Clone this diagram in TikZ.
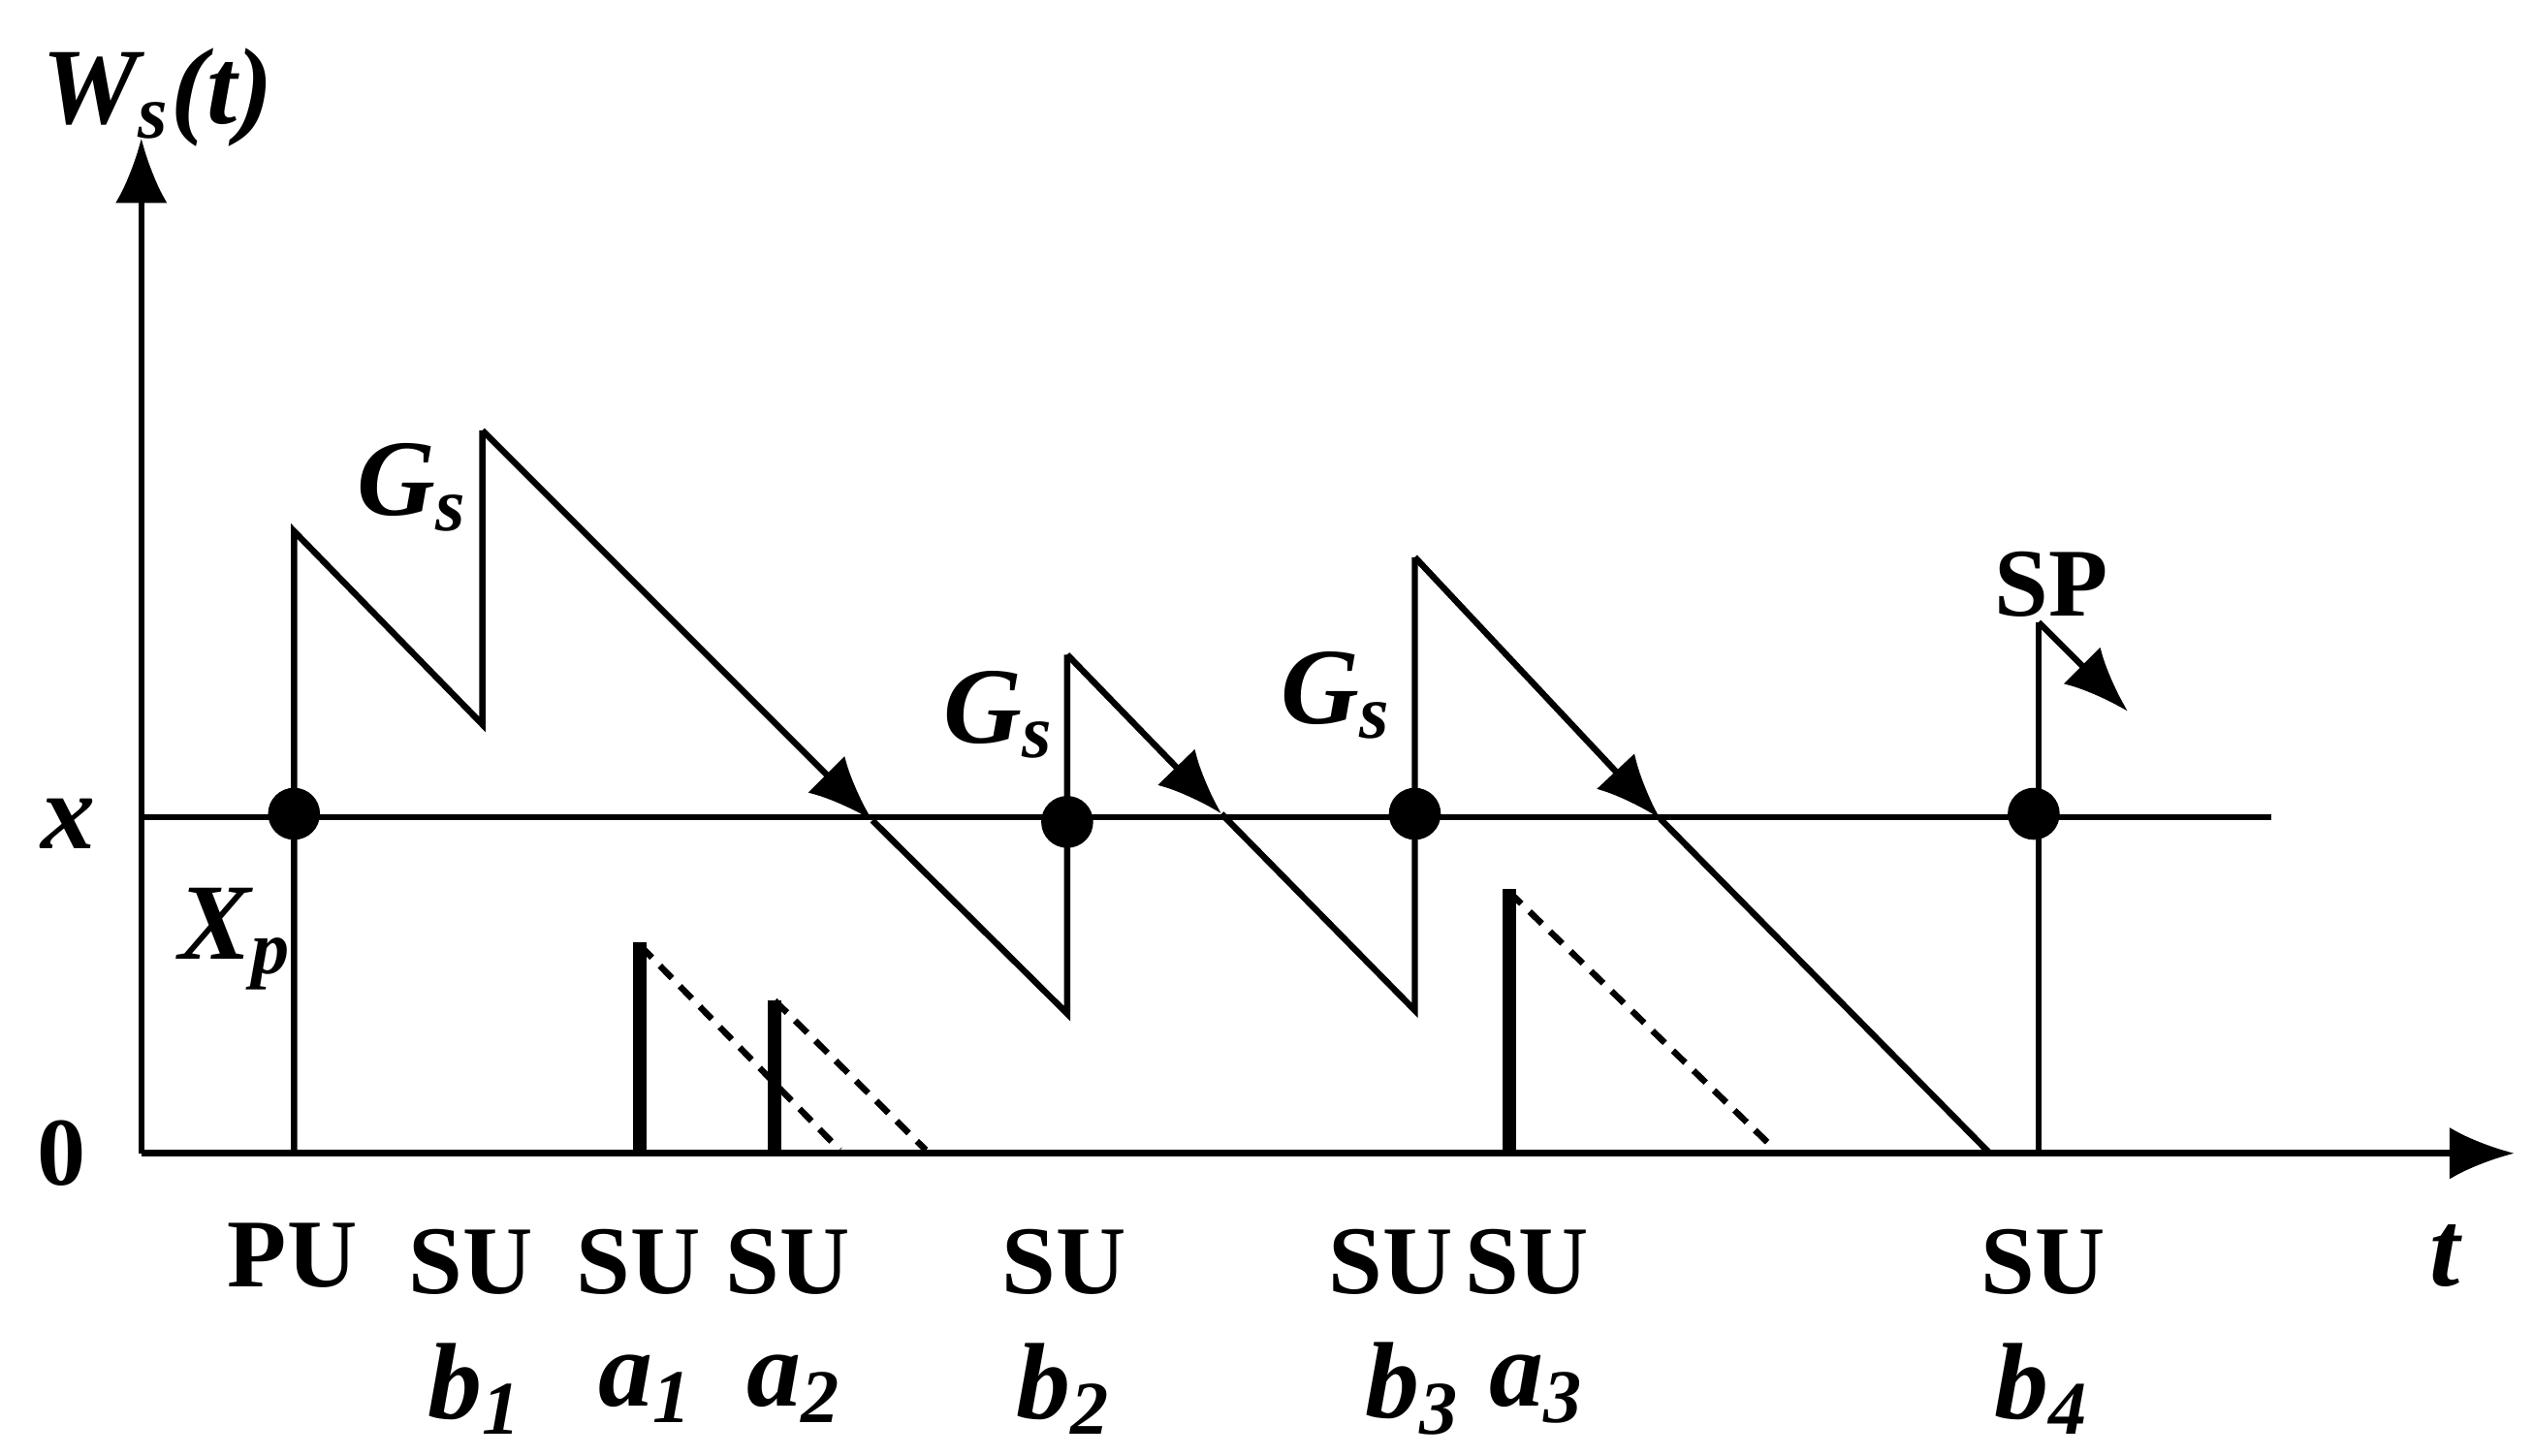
\documentclass[tikz,border=0pt]{standalone}
\usepackage{fontspec}
\setmainfont{Liberation Serif}
\usetikzlibrary{arrows.meta}
\begin{document}
\begin{tikzpicture}[x=0.1mm,y=-0.1mm,
  ln/.style={line width=1.1pt},
  arr/.style={ln,-{Latex[length=4mm,width=3.2mm]}},
  lab/.style={font=\fontsize{17}{20}\selectfont\bfseries},
  var/.style={font=\fontsize{19}{22}\selectfont\bfseries\itshape},
  dot/.style={circle,fill=black,inner sep=0pt,minimum size=3.2mm}]
\useasboundingbox (0,0) rectangle (1560,896);
% axes
\coordinate (o) at (87,710);
\coordinate (ytop) at (87,85);
\coordinate (xend) at (1548,710);
\draw[arr] (o) -- (ytop);
\draw[arr] (o) -- (xend);
\coordinate (xl0) at (87,503);
\coordinate (xl1) at (1398,503);
\draw[ln] (xl0) -- (xl1);
% main path
\draw[ln] (181,710) -- (181,327) -- (297,446) -- (297,265);
\draw[arr] (297,265) -- (537,505);
\draw[ln] (537,505) -- (657,624) -- (657,403);
\draw[arr] (657,403) -- (752,501);
\draw[ln] (752,501) -- (871,622) -- (871,343);
\draw[arr] (871,343) -- (1022,504);
\draw[ln] (1022,504) -- (1225,710);
\draw[ln] (1255,710) -- (1255,383);
\draw[arr] (1255,383) -- (1310,438);
% SU bars
\draw[line width=2.4pt] (394,710) -- (394,580);
\draw[line width=2.4pt] (477,710) -- (477,616);
\draw[line width=2.4pt] (929,710) -- (929,547);
\draw[ln,densely dashed] (394,582) -- (517,708);
\draw[ln,densely dashed] (477,616) -- (570,708);
\draw[ln,densely dashed] (929,549) -- (1093,708);
% dots
\node[dot] (d1) at (181,501) {};
\node[dot] (d2) at (657,506) {};
\node[dot] (d3) at (871,501) {};
\node[dot] (d4) at (1252,501) {};
% labels
\node[var] (W) at (97,60) {W\textsubscript{s}(t)};
\node[var] (xx) at (42,507) {x};
\node[lab] (zero) at (38,710) {0};
\node[var] (tt) at (1505,773) {t};
\node[var] (g1) at (254,300) {G\textsubscript{s}};
\node[var] (g2) at (615,440) {G\textsubscript{s}};
\node[var] (g3) at (823,428) {G\textsubscript{s}};
\node[var] (xp) at (145,578) {X\textsubscript{p}};
\node[lab] (sp) at (1263,360) {SP};
\node[lab] at (180,773) {PU};
\foreach \x in {290,393,485,655,856,940,1258} \node[lab] at (\x,777) {SU};
\node[var] at (293,855) {b\textsubscript{1}};
\node[var] at (398,855) {a\textsubscript{1}};
\node[var] at (489,855) {a\textsubscript{2}};
\node[var] at (655,855) {b\textsubscript{2}};
\node[var] at (870,855) {b\textsubscript{3}};
\node[var] at (946,855) {a\textsubscript{3}};
\node[var] at (1257,855) {b\textsubscript{4}};
\end{tikzpicture}
\end{document}
